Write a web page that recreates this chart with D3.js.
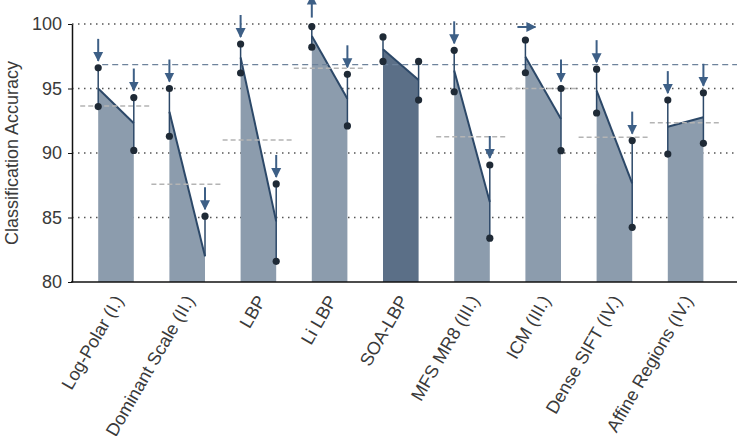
<!DOCTYPE html>
<html>
<head>
<meta charset="utf-8">
<script src="https://cdn.jsdelivr.net/npm/d3@7"></script>
<style>
  body { margin: 0; background: #fff; }
  svg { display: block; font-family: "Liberation Sans", Arial, sans-serif; }
</style>
</head>
<body>
<script>
// values
var methods = ["Log-Polar (I.)", "Dominant Scale (II.)", "LBP", "Li LBP", "SOA-LBP",
               "MFS MR8 (III.)", "ICM (III.)", "Dense SIFT (IV.)", "Affine Regions (IV.)"];
var leftValues  = [95.0, 93.2, 97.4, 99.07, 98.04, 96.4, 97.47, 94.83, 92.04];
var rightValues = [92.3, 82.0, 84.7, 94.2, 95.66, 86.2, 92.64, 87.65, 92.77];
var leftHigh  = [96.6, 95.0, 98.45, 99.8, 99.0, 97.96, 98.76, 96.5, 94.1];
var leftLow   = [93.6, 91.3, 96.2, 98.2, 97.1, 94.75, 96.22, 93.1, 89.92];
var rightHigh = [94.3, 85.1, 87.6, 96.1, 97.1, 89.07, 95.0, 90.96, 94.67];
var rightLow  = [90.2, null, 81.6, 92.1, 94.1, 83.4, 90.18, 84.24, 90.75];
var meanValues = [93.65, 87.57, 91.0, 96.57, 96.85, 91.26, 95.0, 91.22, 92.35];
var leftArrows  = ["down", "down", "down", "up", null, "down", "right", "down", "down"];
var rightArrows = ["down", "down", "down", "down", null, "down", "down", "down", "down"];
var refIndex = 4; // SOA-LBP
var yTicks = [80, 85, 90, 95, 100];

var w = 737, h = 436;
var padLeft = 72, padRight = 737, padTop = 24, padBottom = 282;

var svg = d3.select("body").append("svg")
  .attr("width", w).attr("height", h);

var defs = svg.append("defs");
defs.append("marker")
  .attr("id", "head")
  .attr("viewBox", "0 0 10 10")
  .attr("refX", 9).attr("refY", 5)
  .attr("markerWidth", 5).attr("markerHeight", 5.5)
  .attr("markerUnits", "strokeWidth")
  .attr("orient", "auto")
  .append("path")
  .attr("d", "M0,0 L10,5 L0,10 Z")
  .attr("fill", "#3d5f86");

var yScale = d3.scaleLinear().domain([80, 100]).range([padBottom, padTop]);
var xScale = d3.scaleBand().domain(methods).range([80.4, 721.2]);
var bw = xScale.bandwidth();
function xl(i) { return xScale(methods[i]) + bw * 0.25; }
function xr(i) { return xScale(methods[i]) + bw * 0.75; }
var idx = d3.range(methods.length);

// dotted grid
svg.append("g").selectAll("line")
  .data(yTicks.slice(1))
  .enter().append("line")
  .attr("x1", padLeft).attr("x2", padRight)
  .attr("y1", function(d) { return yScale(d); })
  .attr("y2", function(d) { return yScale(d); })
  .attr("stroke", "#555")
  .attr("stroke-width", 1.4)
  .attr("stroke-dasharray", "1.5,4.5");

// bars (trapezoids)
svg.append("g").selectAll("path")
  .data(idx)
  .enter().append("path")
  .attr("d", function(i) {
    return "M" + xl(i) + "," + yScale(80) +
      "L" + xl(i) + "," + yScale(leftValues[i]) +
      "L" + xr(i) + "," + yScale(rightValues[i]) +
      "L" + xr(i) + "," + yScale(80) + "Z";
  })
  .attr("fill", function(i) { return i === refIndex ? "#5b6f87" : "#8c9cad"; });

// top lines
svg.append("g").selectAll("line")
  .data(idx)
  .enter().append("line")
  .attr("x1", xl).attr("x2", xr)
  .attr("y1", function(i) { return yScale(leftValues[i]); })
  .attr("y2", function(i) { return yScale(rightValues[i]); })
  .attr("stroke", "#2c4868")
  .attr("stroke-width", 2);

// mean lines of each method
svg.append("g").selectAll("line")
  .data(idx.filter(function(i) { return i !== refIndex; }))
  .enter().append("line")
  .attr("x1", function(i) { return xl(i) - 18; })
  .attr("x2", function(i) { return xr(i) + 18; })
  .attr("y1", function(i) { return yScale(meanValues[i]); })
  .attr("y2", function(i) { return yScale(meanValues[i]); })
  .attr("stroke", "#b4b4b4")
  .attr("stroke-width", 1.5)
  .attr("stroke-dasharray", "5,3");

// reference line (SOA-LBP)
svg.append("line")
  .attr("x1", xl(0) + 4).attr("x2", padRight)
  .attr("y1", yScale(meanValues[refIndex]))
  .attr("y2", yScale(meanValues[refIndex]))
  .attr("stroke", "#6d829b")
  .attr("stroke-width", 1.3)
  .attr("stroke-dasharray", "6,4");

// error bars
var errs = [];
idx.forEach(function(i) {
  errs.push({x: xl(i), hi: leftHigh[i], lo: leftLow[i], v: leftValues[i], arrow: leftArrows[i]});
  errs.push({x: xr(i), hi: rightHigh[i], lo: rightLow[i], v: rightValues[i], arrow: rightArrows[i]});
});

svg.append("g").selectAll("line")
  .data(errs)
  .enter().append("line")
  .attr("x1", function(d) { return d.x; }).attr("x2", function(d) { return d.x; })
  .attr("y1", function(d) { return yScale(d.hi); })
  .attr("y2", function(d) { return yScale(d.lo === null ? d.v : d.lo); })
  .attr("stroke", "#2c4868")
  .attr("stroke-width", 1.5);

var dots = [];
errs.forEach(function(d) {
  dots.push({x: d.x, v: d.hi});
  if (d.lo !== null) dots.push({x: d.x, v: d.lo});
});
svg.append("g").selectAll("circle")
  .data(dots)
  .enter().append("circle")
  .attr("cx", function(d) { return d.x; })
  .attr("cy", function(d) { return yScale(d.v); })
  .attr("r", 3.6)
  .attr("fill", "#1f2a36");

// arrows
svg.append("g").selectAll("line")
  .data(errs.filter(function(d) { return d.arrow; }))
  .enter().append("line")
  .attr("x1", function(d) { return d.arrow === "right" ? d.x - 8 : d.x; })
  .attr("x2", function(d) { return d.arrow === "right" ? d.x + 10 : d.x; })
  .attr("y1", function(d) {
    var y = yScale(d.hi);
    if (d.arrow === "down") return y - 29;
    if (d.arrow === "up") return y - 9;
    return y - 13;
  })
  .attr("y2", function(d) {
    var y = yScale(d.hi);
    if (d.arrow === "down") return y - 7;
    if (d.arrow === "up") return y - 31;
    return y - 13;
  })
  .attr("stroke", "#3d5f86")
  .attr("stroke-width", 2)
  .attr("marker-end", "url(#head)");

// axes
var yAxis = d3.axisLeft(yScale).tickValues(yTicks).tickSizeInner(4).tickSizeOuter(0).tickPadding(6);
var gy = svg.append("g")
  .attr("transform", "translate(" + padLeft + ",0)")
  .call(yAxis);
gy.select(".domain").attr("stroke", "#111").attr("stroke-width", 1.5);
gy.selectAll(".tick line").attr("stroke", "#111");
gy.selectAll(".tick text")
  .attr("font-size", "18px")
  .attr("font-family", "Liberation Sans, Arial, sans-serif")
  .attr("fill", "#3a3a3a");

svg.append("line")
  .attr("x1", padLeft - 1).attr("x2", padRight)
  .attr("y1", padBottom).attr("y2", padBottom)
  .attr("stroke", "#111").attr("stroke-width", 1.5);

// category labels
svg.append("g").selectAll("text")
  .data(methods)
  .enter().append("text")
  .attr("transform", function(d) {
    return "translate(" + (xScale(d) + bw / 2 + 8) + "," + (padBottom + 18) + ") rotate(-60)";
  })
  .attr("text-anchor", "end")
  .attr("font-size", "18px")
  .attr("fill", "#3a3a3a")
  .text(function(d) { return d; });

svg.append("text")
  .attr("transform", "translate(18," + ((padTop + padBottom) / 2) + ") rotate(-90)")
  .attr("text-anchor", "middle")
  .attr("font-size", "18px")
  .attr("fill", "#3a3a3a")
  .text("Classification Accuracy");
</script>
</body>
</html>
